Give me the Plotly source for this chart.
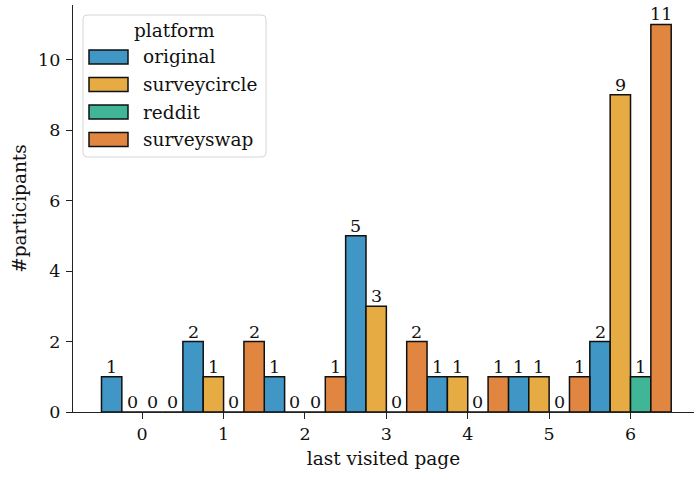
"""Last visited page per platform - grouped bar chart."""

import plotly.graph_objects as go

pages = [0, 1, 2, 3, 4, 5, 6]
platforms = ["original", "surveycircle", "reddit", "surveyswap"]
original = [1, 2, 1, 5, 1, 1, 2]
surveycircle = [0, 1, 0, 3, 1, 1, 9]
reddit = [0, 0, 0, 0, 0, 0, 1]
surveyswap = [0, 2, 1, 2, 1, 1, 11]

colors = ["#4096c5", "#e6ab43", "#41b696", "#e08640"]
FONT = "DejaVu Serif"
BIG, SMALL = 18.5, 17.5

# pixel geometry of the plotting area
W, H = 694, 477
L, R, T, B = 73, 0, 5, 65


def px_x(p):
    return (p - L) / (W - L - R)


def px_y(p):
    return (H - B - p) / (H - T - B)


def rounded_box(x0, y0, x1, y1, r=4):
    # pixel coords -> paper path with rounded corners
    pts = [
        f"M {px_x(x0 + r)},{px_y(y0)}",
        f"L {px_x(x1 - r)},{px_y(y0)}",
        f"Q {px_x(x1)},{px_y(y0)} {px_x(x1)},{px_y(y0 + r)}",
        f"L {px_x(x1)},{px_y(y1 - r)}",
        f"Q {px_x(x1)},{px_y(y1)} {px_x(x1 - r)},{px_y(y1)}",
        f"L {px_x(x0 + r)},{px_y(y1)}",
        f"Q {px_x(x0)},{px_y(y1)} {px_x(x0)},{px_y(y1 - r)}",
        f"L {px_x(x0)},{px_y(y0 + r)}",
        f"Q {px_x(x0)},{px_y(y0)} {px_x(x0 + r)},{px_y(y0)} Z",
    ]
    return " ".join(pts)


fig = go.Figure()
series = [original, surveycircle, reddit, surveyswap]
for k, (name, vals) in enumerate(zip(platforms, series)):
    off = -0.5 + 0.25 * k
    fig.add_trace(
        go.Bar(
            x=pages,
            y=vals,
            name=name,
            width=0.25,
            offset=off,
            marker=dict(color=colors[k], line=dict(color="#111", width=1.5)),
            showlegend=False,
        )
    )
    for p, v in zip(pages, vals):
        fig.add_annotation(
            x=p + off + 0.125,
            y=v,
            text=str(v),
            showarrow=False,
            yanchor="bottom",
            yshift=-2,
            font=dict(family=FONT, size=SMALL, color="#111"),
        )

# hand-drawn legend (matplotlib style)
fig.add_shape(
    type="path", xref="paper", yref="paper",
    path=rounded_box(83, 15, 266, 157),
    line=dict(color="#d6d6d6", width=1), fillcolor="rgba(255,255,255,0.8)",
)
fig.add_annotation(
    xref="paper", yref="paper", x=px_x(174), y=px_y(31),
    text="platform", showarrow=False, xanchor="center", yanchor="middle",
    font=dict(family=FONT, size=BIG, color="#111"),
)
for k, name in enumerate(platforms):
    cy = 57 + 27.5 * k
    fig.add_shape(
        type="rect", xref="paper", yref="paper",
        x0=px_x(89), x1=px_x(128), y0=px_y(cy + 7), y1=px_y(cy - 7),
        line=dict(color="#111", width=1.5), fillcolor=colors[k],
    )
    fig.add_annotation(
        xref="paper", yref="paper", x=px_x(141), y=px_y(cy),
        text=name, showarrow=False, xanchor="left", yanchor="middle",
        font=dict(family=FONT, size=BIG, color="#111"),
    )

axis_common = dict(
    showgrid=False, zeroline=False, showline=True,
    linecolor="#222", linewidth=1.2, ticks="outside", ticklen=6,
    tickcolor="#222", tickfont=dict(family=FONT, size=SMALL, color="#111"),
)
fig.update_xaxes(
    range=[-0.85, 6.78], tickvals=pages, ticktext=[str(p) for p in pages],
    title=dict(text="last visited page", font=dict(family=FONT, size=BIG, color="#111"), standoff=8),
    **axis_common,
)
fig.update_yaxes(
    range=[0, 11.55], tickvals=[0, 2, 4, 6, 8, 10], ticklabelstandoff=2,
    title=dict(text="#participants", font=dict(family=FONT, size=BIG, color="#111"), standoff=6),
    **axis_common,
)
fig.update_layout(
    width=W, height=H, barmode="overlay",
    margin=dict(l=L, r=R, t=T, b=B),
    plot_bgcolor="white", paper_bgcolor="white",
)

fig.write_html(
    "out.html",
    config={"displayModeBar": False},
    post_script="document.body.style.margin='0';",
)
